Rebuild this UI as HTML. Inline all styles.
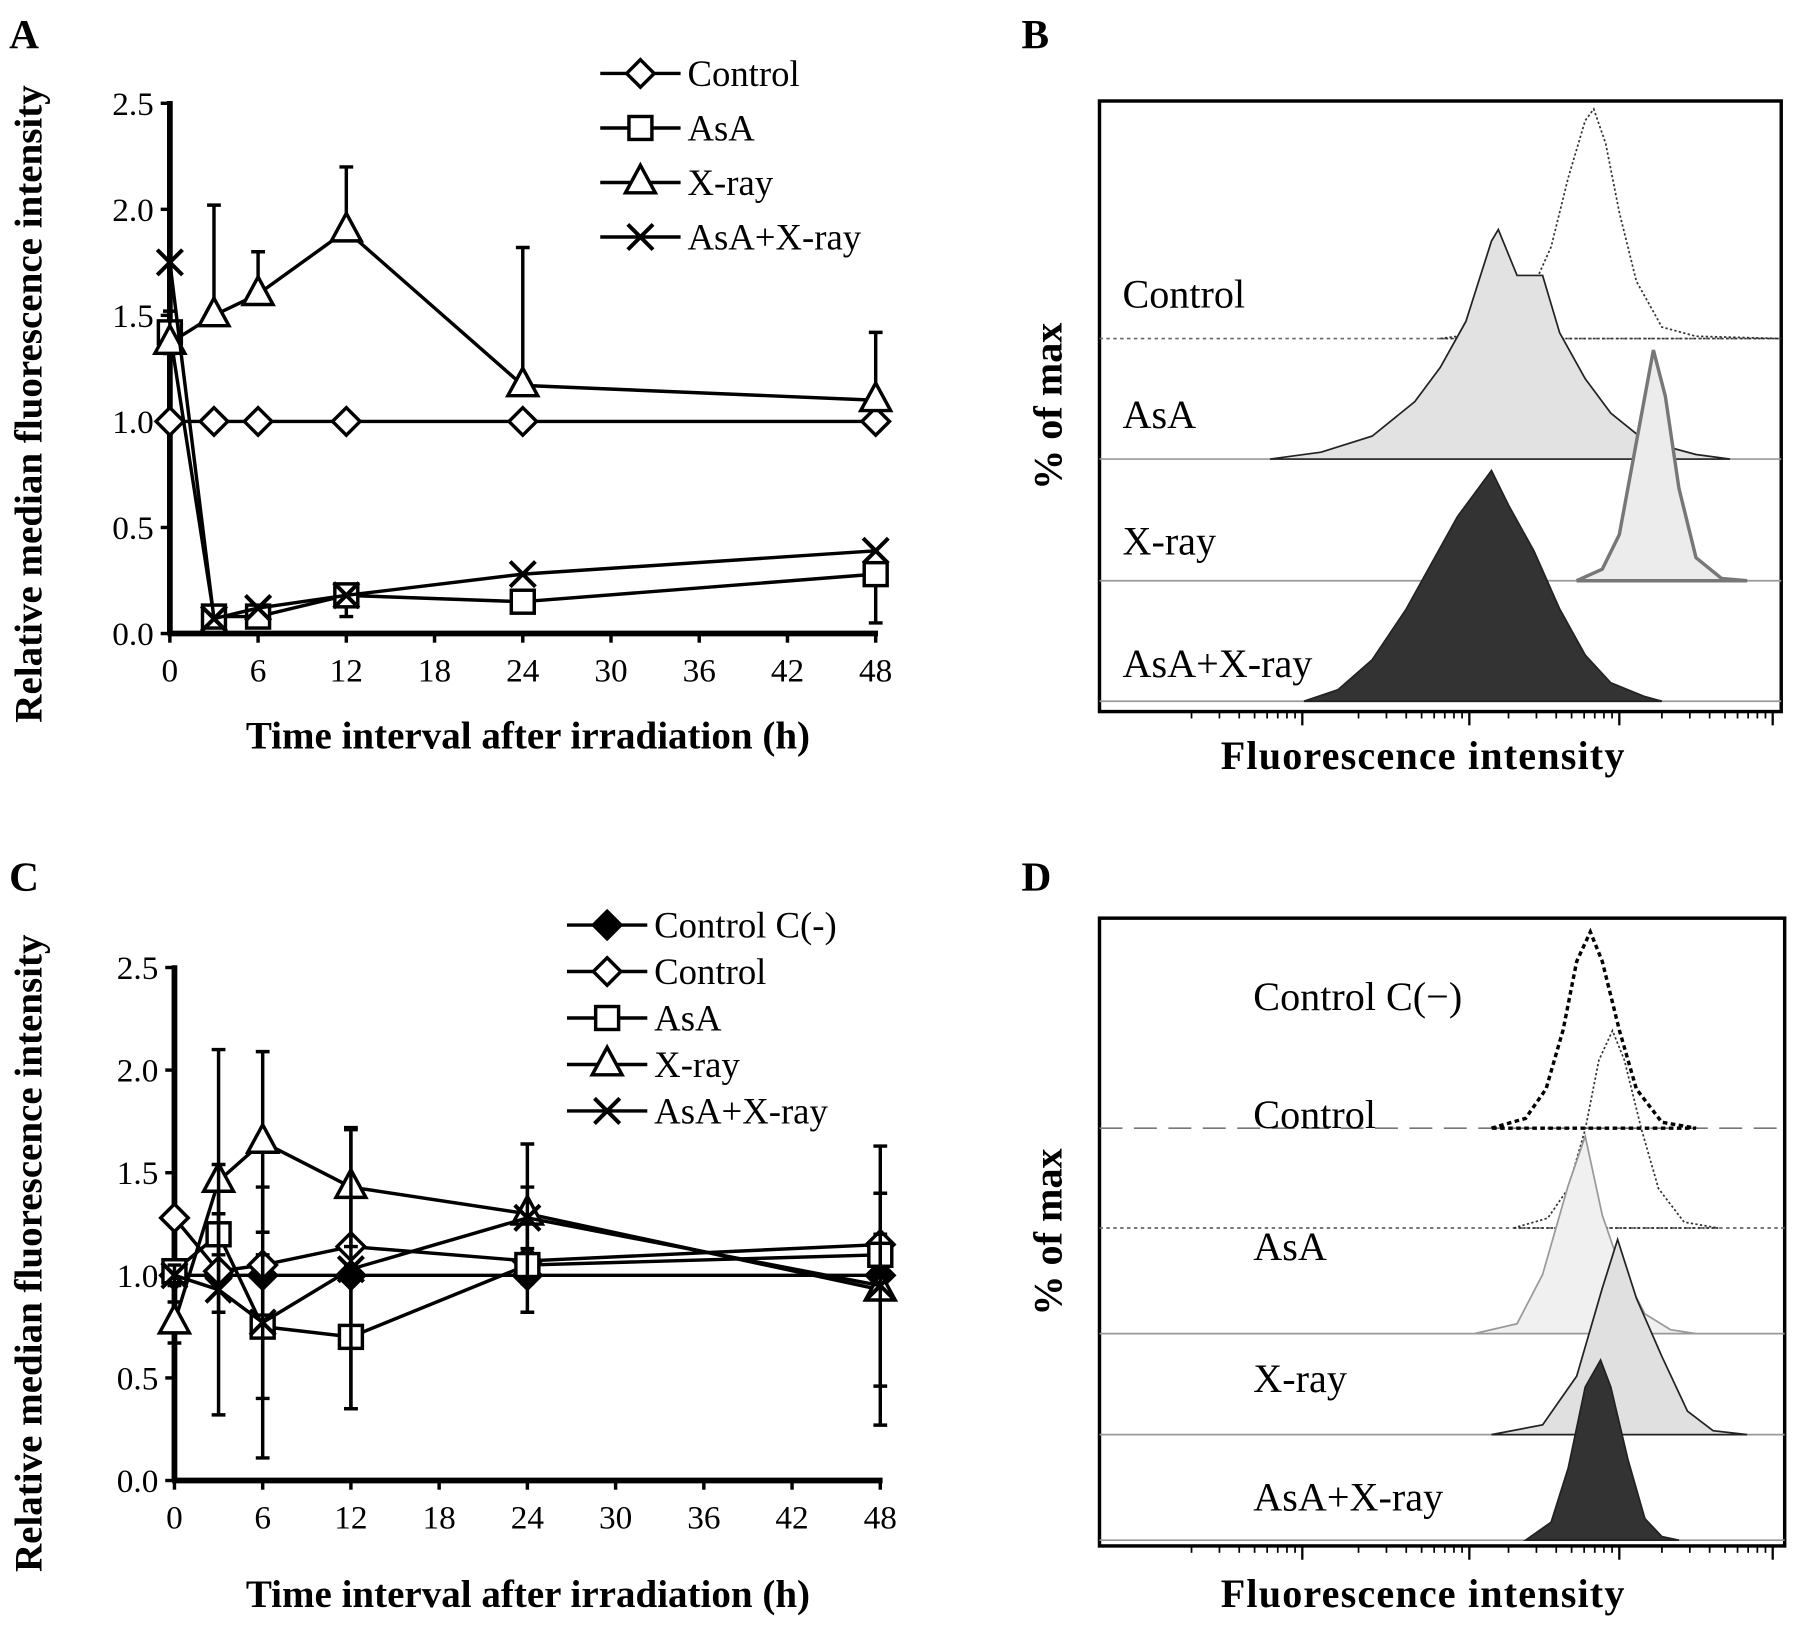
<!DOCTYPE html>
<html><head><meta charset="utf-8"><style>
html,body{margin:0;padding:0;background:#fff}
svg{display:block}
text{font-family:"Liberation Serif",serif;fill:#000}
</style></head><body>
<svg id="fig" width="1795" height="1628" viewBox="0 0 1564 1418.5" preserveAspectRatio="none" xmlns="http://www.w3.org/2000/svg">
<rect width="1564" height="1418.5" fill="#fff"/>
<text x="8" y="42" font-size="36" font-weight="bold">A</text>
<text x="890" y="42" font-size="36" font-weight="bold">B</text>
<text x="8" y="776" font-size="36" font-weight="bold">C</text>
<text x="890" y="776" font-size="36" font-weight="bold">D</text>
<g id="gA"></g><g id="gB"></g><g id="gC"></g><g id="gD"></g>
</svg>
<script>
// ---- Panel A data ----
const timesA = [0, 3, 6, 12, 24, 48];
const aControl = [1.0, 1.0, 1.0, 1.0, 1.0, 1.0];
const aAsA = [1.42, 0.08, 0.08, 0.18, 0.15, 0.28];
const aAsAErr = [0.1, 0.03, 0.03, 0.1, 0.03, 0.23];
const aXray = [1.37, 1.5, 1.6, 1.9, 1.17, 1.1];
const aXrayErr = [0.15, 0.52, 0.2, 0.3, 0.65, 0.32];
const aCombo = [1.75, 0.07, 0.12, 0.18, 0.28, 0.39];
// ---- Panel C data ----
const timesC = [0, 3, 6, 12, 24, 48];
const cCneg = [1.0, 1.0, 1.0, 1.0, 1.0, 1.0];
const cCnegErr = [0, 0, 0, 0, 0.18, 0];
const cControl = [1.28, 1.02, 1.05, 1.14, 1.07, 1.15];
const cAsA = [1.02, 1.2, 0.75, 0.7, 1.05, 1.1];
const cAsAErr = [0.05, 0.1, 0.35, 0.35, 0.05, 0.1];
const cXray = [0.77, 1.46, 1.65, 1.43, 1.3, 0.93];
const cXrayErr = [0.1, 0.64, 0.44, 0.29, 0.34, 0.47];
const cCombo = [1.0, 0.93, 0.77, 1.03, 1.28, 0.95];
const cComboErr = [0.05, 0.61, 0.66, 0.68, 0.15, 0.68];
const xTicks = [0, 6, 12, 18, 24, 30, 36, 42, 48];
const yTicks = [0, 0.5, 1.0, 1.5, 2.0, 2.5];
const yTickLabels = ["0.0", "0.5", "1.0", "1.5", "2.0", "2.5"];
// ---- Histogram data: [log-intensity, fraction of max] ----
const bControl = [[2.0,0],[2.3,0.03],[2.5,0.15],[2.65,0.4],[2.75,0.7],[2.85,0.95],[2.9,1],[2.97,0.85],[3.05,0.55],[3.15,0.25],[3.3,0.05],[3.5,0.01],[4,0]];
const bAsA = [[1.0,0],[1.3,0.03],[1.6,0.1],[1.85,0.25],[2.0,0.4],[2.15,0.6],[2.3,0.95],[2.34,1],[2.45,0.8],[2.6,0.8],[2.7,0.55],[2.85,0.35],[3.0,0.2],[3.2,0.08],[3.5,0.02],[3.7,0]];
const bXray = [[2.8,0],[2.95,0.05],[3.05,0.2],[3.15,0.6],[3.25,1],[3.32,0.8],[3.4,0.4],[3.5,0.1],[3.65,0.01],[3.8,0]];
const bCombo = [[1.2,0],[1.4,0.05],[1.6,0.18],[1.8,0.4],[1.95,0.6],[2.1,0.8],[2.2,0.9],[2.3,1],[2.4,0.85],[2.55,0.65],[2.7,0.4],[2.85,0.2],[3.0,0.08],[3.2,0.02],[3.3,0]];
const dCneg = [[2.3,0],[2.5,0.05],[2.62,0.2],[2.72,0.5],[2.8,0.85],[2.88,1],[2.95,0.85],[3.05,0.5],[3.15,0.2],[3.3,0.03],[3.5,0]];
const dControl = [[2.43,0],[2.63,0.05],[2.75,0.2],[2.85,0.5],[2.93,0.85],[3.01,1],[3.08,0.85],[3.18,0.5],[3.28,0.2],[3.43,0.03],[3.63,0]];
const dAsA = [[2.2,0],[2.45,0.05],[2.6,0.3],[2.75,0.75],[2.85,1],[2.95,0.6],[3.05,0.35],[3.2,0.1],[3.35,0.02],[3.5,0]];
const dXray = [[2.3,0],[2.6,0.05],[2.8,0.3],[2.95,0.75],[3.04,1],[3.15,0.7],[3.3,0.4],[3.45,0.12],[3.6,0.02],[3.8,0]];
const dCombo = [[2.5,0],[2.65,0.1],[2.75,0.4],[2.85,0.85],[2.94,1],[3.0,0.85],[3.1,0.45],[3.2,0.12],[3.3,0.02],[3.4,0]];
const decadeTicks = [1.19, 2.17, 3.05, 3.95];

const NS = "http://www.w3.org/2000/svg";
function mk(parent, tag, attrs, txt) {
  const e = document.createElementNS(NS, tag);
  for (const k in attrs) e.setAttribute(k, attrs[k]);
  if (txt !== undefined) e.textContent = txt;
  parent.appendChild(e);
  return e;
}
function marker(g, type, cx, cy, fill) {
  let e;
  if (type === "diamond") e = mk(g, "polygon", {points:`${cx},${cy-12} ${cx+12},${cy} ${cx},${cy+12} ${cx-12},${cy}`, fill:fill||"#fff", stroke:"#000", "stroke-width":3});
  else if (type === "square") e = mk(g, "rect", {x:cx-10, y:cy-10, width:20, height:20, fill:"#fff", stroke:"#000", "stroke-width":3});
  else if (type === "triangle") e = mk(g, "polygon", {points:`${cx},${cy-15} ${cx+13},${cy+9} ${cx-13},${cy+9}`, fill:"#fff", stroke:"#000", "stroke-width":3});
  else e = mk(g, "path", {d:`M${cx-11},${cy-11}L${cx+11},${cy+11}M${cx+11},${cy-11}L${cx-11},${cy+11}`, stroke:"#000", "stroke-width":3.5, fill:"none"});
  
  
}
function lineChart(gid, x0, x48, y0, y25, times, series, legend, lx, ly) {
  const g = document.getElementById(gid);
  const sx = t => x0 + t * (x48 - x0) / 48;
  const sy = v => y0 - v * (y0 - y25) / 2.5;
  let ax = mk(g, "line", {x1:x0, y1:sy(2.5)-2, x2:x0, y2:y0, stroke:"#000", "stroke-width":5});
   
  ax = mk(g, "line", {x1:x0-2, y1:y0, x2:x48+2, y2:y0, stroke:"#000", "stroke-width":5});
   
  yTicks.forEach((v, i) => {
    mk(g, "line", {x1:x0-8, y1:sy(v), x2:x0, y2:sy(v), stroke:"#000", "stroke-width":3});
    const t = mk(g, "text", {x:x0-14, y:sy(v)+10, "font-size":29, "text-anchor":"end"}, yTickLabels[i]);
     
  });
  xTicks.forEach(v => {
    mk(g, "line", {x1:sx(v), y1:y0, x2:sx(v), y2:y0+8, stroke:"#000", "stroke-width":3});
    const t = mk(g, "text", {x:sx(v), y:y0+42, "font-size":29, "text-anchor":"middle"}, String(v));
     
  });
  series.forEach(s => {
    const sg = mk(g, "g", {});
    
    
    const dir = s.dir || "both";
    if (s.err) s.vals.forEach((v, i) => {
      if (!s.err[i]) return;
      const x = sx(times[i]);
      if (dir !== "down") { const y1 = sy(v + s.err[i]); mk(sg, "path", {d:`M${x},${sy(v)}V${y1}M${x-6},${y1}h12`, stroke:"#000", "stroke-width":3, fill:"none"}); }
      if (dir !== "up") { const y2 = sy(Math.max(0, v - s.err[i])); mk(sg, "path", {d:`M${x},${sy(v)}V${y2}M${x-6},${y2}h12`, stroke:"#000", "stroke-width":3, fill:"none"}); }
    });
    mk(sg, "polyline", {points: s.vals.map((v, i) => sx(times[i]) + "," + sy(v)).join(" "), fill:"none", stroke:"#000", "stroke-width":3});
    s.vals.forEach((v, i) => marker(sg, s.type, sx(times[i]), sy(v), s.fill));
  });
  legend.forEach((l, i) => {
    const y = ly + i * (gid === "gA" ? 47.5 : 40.5);
    const lg = mk(g, "g", {});
    
    
    mk(lg, "line", {x1:lx, y1:y, x2:lx+70, y2:y, stroke:"#000", "stroke-width":3});
    marker(lg, l.type, lx+35, y, l.fill);
    mk(lg, "text", {x:lx+76, y:y+11, "font-size":32}, l.name);
  });
}
lineChart("gA", 148, 763, 552, 90, timesA, [
  {name:"control", type:"diamond", vals:aControl},
  {name:"asa", type:"square", vals:aAsA, err:aAsAErr, dir:"down"},
  {name:"xray", type:"triangle", vals:aXray, err:aXrayErr, dir:"up"},
  {name:"asa-xray", type:"x", vals:aCombo}
], [{name:"Control",type:"diamond"},{name:"AsA",type:"square"},{name:"X-ray",type:"triangle"},{name:"AsA+X-ray",type:"x"}], 523, 64);
lineChart("gC", 152, 767, 1290, 843, timesC, [
  {name:"control-cneg", type:"diamond", vals:cCneg, err:cCnegErr, fill:"#000", dir:"down"},
  {name:"control", type:"diamond", vals:cControl},
  {name:"asa", type:"square", vals:cAsA, err:cAsAErr},
  {name:"xray", type:"triangle", vals:cXray, err:cXrayErr},
  {name:"asa-xray", type:"x", vals:cCombo, err:cComboErr}
], [{name:"Control C(-)",type:"diamond",fill:"#000"},{name:"Control",type:"diamond"},{name:"AsA",type:"square"},{name:"X-ray",type:"triangle"},{name:"AsA+X-ray",type:"x"}], 494, 806);

function hist(gid, box, rows, titleY) {
  const g = document.getElementById(gid);
  const hx = L => 958 + L * 148.5;
  const b = mk(g, "rect", {x:box[0], y:box[1], width:box[2]-box[0], height:box[3]-box[1], fill:"none", stroke:"#000", "stroke-width":3});
   
  rows.forEach(r => {
    const hg = mk(g, "g", {});
    
    
    mk(hg, "line", {x1:box[0], y1:r.base, x2:box[2], y2:r.base, stroke:r.baseStroke||"#999", "stroke-width":1.5, "stroke-dasharray":r.baseDash||"none"});
    const pts = r.data.map(p => hx(p[0]) + "," + (r.base - p[1] * r.h));
    mk(hg, "polygon", {points: pts.join(" "), fill:r.fill, stroke:r.stroke, "stroke-width":r.sw||1.5, "stroke-dasharray":r.dash||"none"});
    mk(hg, "text", {x:r.lx, y:r.ly, "font-size":35}, r.label);
  });
  const by = box[3];
  for (let d = 0; d < decadeTicks.length; d++) {
    const x = hx(decadeTicks[d]);
    mk(g, "line", {x1:x, y1:by, x2:x, y2:by+12, stroke:"#000", "stroke-width":2});
    for (let k = 2; k < 10; k++) {
      const xm = hx(decadeTicks[d] - (1 - Math.log10(k)) * 0.93);
      if (xm > box[0]) mk(g, "line", {x1:xm, y1:by, x2:xm, y2:by+6, stroke:"#000", "stroke-width":1.5});
    }
  }
  const t = mk(g, "text", {x:1240, y:titleY, "font-size":35, "font-weight":"bold", "text-anchor":"middle", "letter-spacing":"1"}, "Fluorescence intensity");
   
  const yc = (box[1] + box[3]) / 2;
  const yt = mk(g, "text", {x:0, y:0, "font-size":35, "font-weight":"bold", "text-anchor":"middle", transform:`translate(925,${yc}) rotate(-90)`}, "% of max");
   
}
hist("gB", [958, 88, 1552, 620], [
  {id:"control", data:bControl, base:295, h:200, fill:"none", stroke:"#333", dash:"2,2", baseDash:"3,3", baseStroke:"#666", label:"Control", lx:978, ly:268},
  {id:"asa", data:bAsA, base:400, h:200, fill:"#e2e2e2", stroke:"#222", label:"AsA", lx:978, ly:373},
  {id:"xray", data:bXray, base:506, h:201, fill:"#ececec", stroke:"#777", sw:3, label:"X-ray", lx:978, ly:483},
  {id:"asa-xray", data:bCombo, base:611, h:201, fill:"#333", stroke:"#222", label:"AsA+X-ray", lx:978, ly:590}
], 670);
hist("gD", [958, 800, 1555, 1347], [
  {id:"control-cneg", data:dCneg, base:983, h:171, fill:"none", stroke:"#000", sw:3, dash:"4,3", baseDash:"20,10", baseStroke:"#777", label:"Control  C(\u2212)", lx:1092, ly:880},
  {id:"control", data:dControl, base:1070, h:172, fill:"none", stroke:"#333", dash:"2,2", baseDash:"3,3", baseStroke:"#666", label:"Control", lx:1092, ly:983},
  {id:"asa", data:dAsA, base:1162, h:172, fill:"#f0f0f0", stroke:"#999", label:"AsA", lx:1092, ly:1098},
  {id:"xray", data:dXray, base:1250, h:170, fill:"#e0e0e0", stroke:"#222", label:"X-ray", lx:1092, ly:1213},
  {id:"asa-xray", data:dCombo, base:1342, h:157, fill:"#333", stroke:"#222", label:"AsA+X-ray", lx:1092, ly:1316}
], 1400);
const svg = document.getElementById("fig");
[["A", 652, 352], ["C", 1400, 1092]].forEach(a => {
  let t = mk(svg, "text", {x:460, y:a[1], "font-size":34, "font-weight":"bold", "text-anchor":"middle"}, "Time interval after irradiation (h)");
  
  
  t = mk(svg, "text", {x:0, y:0, "font-size":34, "font-weight":"bold", "text-anchor":"middle", transform:`translate(36,${a[2]}) rotate(-90)`}, "Relative median fluorescence intensity");
  
  
});
</script>
</body></html>
